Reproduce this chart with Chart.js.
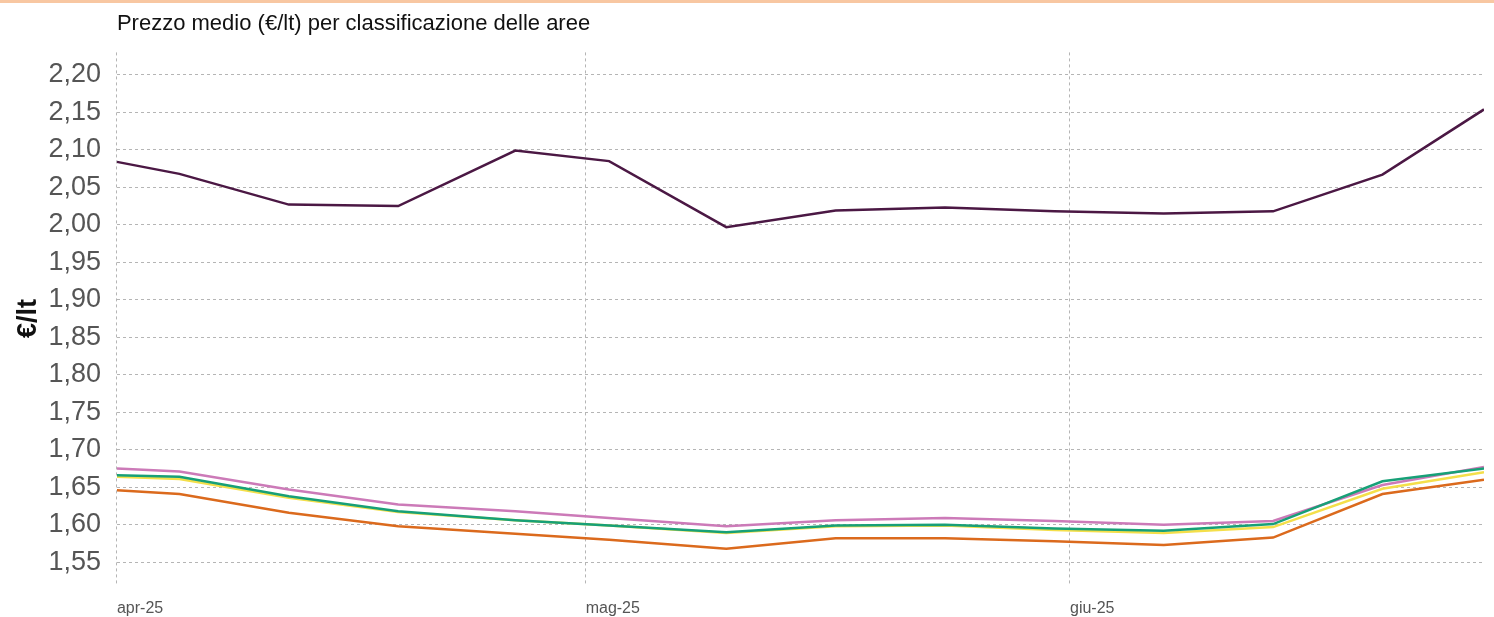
<!DOCTYPE html>
<html>
<head>
<meta charset="utf-8">
<script src="https://cdn.jsdelivr.net/npm/chart.js@4/dist/chart.umd.min.js"></script>
<style>
  html, body { margin: 0; padding: 0; background: #fff; overflow: hidden; }
  #wrap { width: 1494px; height: 614px; border-top: 3px solid #f8c7a2; }
</style>
</head>
<body>
<div id="wrap"><canvas id="priceChart" width="1494" height="614"></canvas></div>
<script>
// days since 1 April 2025
const days = [0, 4, 11, 18, 25.5, 31.5, 39, 46, 53, 60, 67, 74, 81, 87.5];

const serieViola   = [2.084, 2.068, 2.027, 2.025, 2.099, 2.085, 1.997, 2.019, 2.023, 2.018, 2.015, 2.018, 2.067, 2.154];
const serieRosa    = [1.675, 1.671, 1.647, 1.627, 1.618, 1.609, 1.598, 1.606, 1.609, 1.605, 1.600, 1.605, 1.653, 1.677];
const serieGialla  = [1.664, 1.661, 1.636, 1.617, 1.606, 1.599, 1.589, 1.598, 1.599, 1.593, 1.589, 1.597, 1.648, 1.670];
const serieVerde   = [1.666, 1.664, 1.638, 1.618, 1.606, 1.599, 1.590, 1.599, 1.600, 1.595, 1.592, 1.601, 1.658, 1.675];
const serieArancio = [1.646, 1.641, 1.616, 1.598, 1.588, 1.580, 1.568, 1.582, 1.582, 1.578, 1.573, 1.583, 1.641, 1.660];

const xTickValues = [0, 30, 61];
const xTickLabels = ['apr-25', 'mag-25', 'giu-25'];
const yTickValues = [1.55, 1.60, 1.65, 1.70, 1.75, 1.80, 1.85, 1.90, 1.95, 2.00, 2.05, 2.10, 2.15, 2.20];

const fontFam = 'Arial, "Liberation Sans", sans-serif';

function points(values) {
  return values.map((v, i) => ({ x: days[i], y: v }));
}

function makeSet(label, values, color) {
  return {
    label: label,
    data: points(values),
    borderColor: color,
    backgroundColor: color,
    borderWidth: 2.5,
    pointRadius: 0,
    tension: 0
  };
}

const ctx = document.getElementById('priceChart').getContext('2d');

new Chart(ctx, {
  type: 'line',
  data: {
    datasets: [
      makeSet('Verde', serieVerde, '#17a077'),
      makeSet('Gialla', serieGialla, '#f4df4a'),
      makeSet('Rosa', serieRosa, '#cc7ab8'),
      makeSet('Arancio', serieArancio, '#db6a1d'),
      makeSet('Viola', serieViola, '#4b1844')
    ]
  },
  options: {
    responsive: false,
    animation: false,
    layout: { padding: { left: 0, right: 10, top: 0, bottom: -15 } },
    plugins: {
      legend: { display: false },
      tooltip: { enabled: false },
      title: {
        display: true,
        text: 'Prezzo medio (€/lt) per classificazione delle aree',
        align: 'start',
        fullSize: false,
        color: '#111',
        font: { family: fontFam, size: 22, weight: 'normal' },
        padding: { top: 8, bottom: 15 }
      }
    },
    scales: {
      x: {
        type: 'linear',
        min: 0,
        max: 87.5,
        afterBuildTicks: axis => { axis.ticks = xTickValues.map(v => ({ value: v })); },
        ticks: {
          align: 'start',
          padding: 14,
          color: '#555',
          font: { family: fontFam, size: 16 },
          callback: v => xTickLabels[xTickValues.indexOf(v)]
        },
        grid: { color: '#b5b5b5', lineWidth: 1, drawTicks: false },
        border: { display: false, dash: [3, 3] }
      },
      y: {
        min: 1.52,
        max: 2.23,
        afterBuildTicks: axis => { axis.ticks = yTickValues.map(v => ({ value: v })); },
        ticks: {
          padding: 16,
          color: '#555',
          font: { family: fontFam, size: 27 },
          callback: v => v.toFixed(2).replace('.', ',')
        },
        grid: { color: '#b5b5b5', lineWidth: 1, drawTicks: false },
        border: { display: false, dash: [3, 3] },
        title: {
          display: true,
          text: '€/lt',
          color: '#111',
          font: { family: fontFam, size: 27, weight: 'bold' },
          padding: { top: 12, bottom: -12 }
        }
      }
    }
  }
});
</script>
</body>
</html>
